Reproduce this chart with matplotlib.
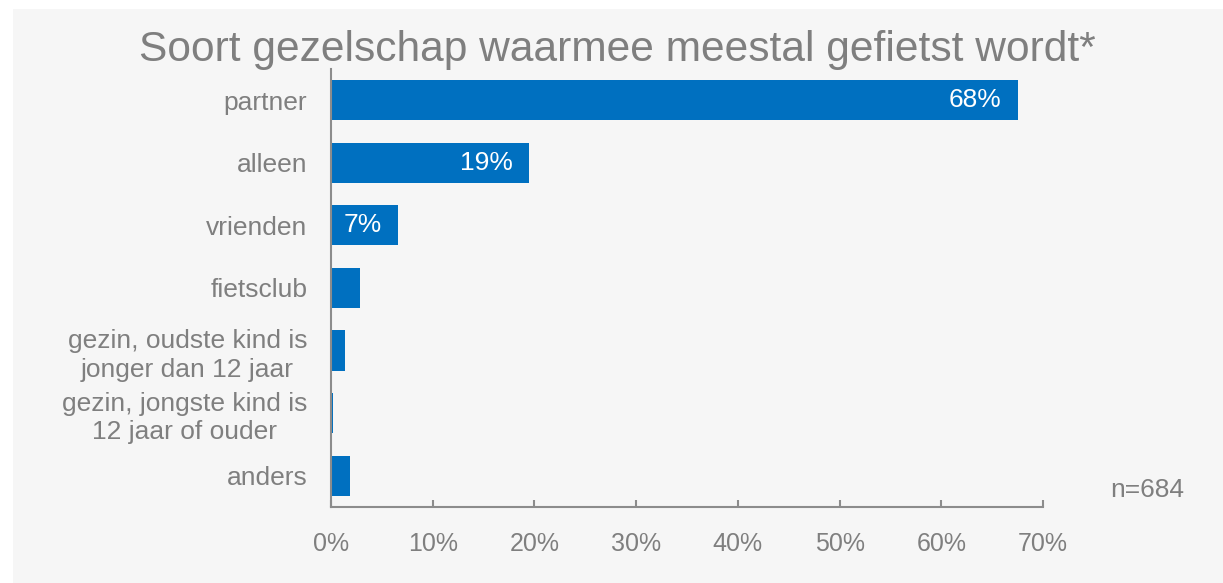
import matplotlib
matplotlib.use('Agg')
import matplotlib.pyplot as plt
from matplotlib.patches import Rectangle
from matplotlib.ticker import PercentFormatter

# data
categories = ['partner', 'alleen', 'vrienden', 'fietsclub',
              'gezin, oudste kind is\njonger dan 12 jaar',
              'gezin, jongste kind is\n12 jaar of ouder',
              'anders']
values = [67.5, 19.5, 6.6, 2.9, 1.4, 0.2, 1.9]
shown_labels = ['68%', '19%', '7%', '', '', '', '']
x_ticks = [0, 10, 20, 30, 40, 50, 60, 70]

blue = '#0070C0'
grey = '#7f7f7f'
bg = '#f6f6f6'

plt.rcParams['font.family'] = ['Liberation Sans', 'DejaVu Sans']

fig = plt.figure(figsize=(12.23, 5.83), dpi=100)
fig.patch.set_facecolor('white')
# grey panel behind the chart
fig.patches.append(Rectangle((13 / 1223, 0), 1, 1 - 9 / 583, transform=fig.transFigure,
                             facecolor=bg, edgecolor='none', zorder=-10))

ax = fig.add_axes([331 / 1223, 76 / 583, 712 / 1223, 438.3 / 583])
ax.patch.set_alpha(0)

pos = list(range(len(categories)))
bars = ax.barh(pos, values, height=0.64, color=blue)
ax.set_ylim(len(categories) - 0.5, -0.5)
ax.set_xlim(0, 70)

for b, lab in zip(bars, shown_labels):
    if lab:
        ax.annotate(lab, (b.get_width(), b.get_y() + b.get_height() / 2),
                    xytext=(-12, 0), textcoords='offset points',
                    ha='right', va='center', color='white', fontsize=19)

ax.set_yticks(pos)
ax.set_yticklabels(categories, fontsize=19, color=grey, multialignment='center',
                   linespacing=1.25)
ax.tick_params(axis='y', length=0, pad=17)
ax.set_xticks(x_ticks)
ax.xaxis.set_major_formatter(PercentFormatter(decimals=0))
ax.tick_params(axis='x', direction='in', length=5, width=1.5, color='#8c8c8c',
               labelsize=18, labelcolor=grey, pad=18)

for s in ['top', 'right']:
    ax.spines[s].set_visible(False)
for s in ['left', 'bottom']:
    ax.spines[s].set_color('#8c8c8c')
    ax.spines[s].set_linewidth(1.5)

fig.text(0.505, 0.914, 'Soort gezelschap waarmee meestal gefietst wordt*',
         ha='center', va='center', fontsize=30.6, color=grey)
fig.text(0.938, 0.16, 'n=684', ha='center', va='center', fontsize=19, color=grey)

fig.savefig('out.png', dpi=100, facecolor=fig.get_facecolor())
